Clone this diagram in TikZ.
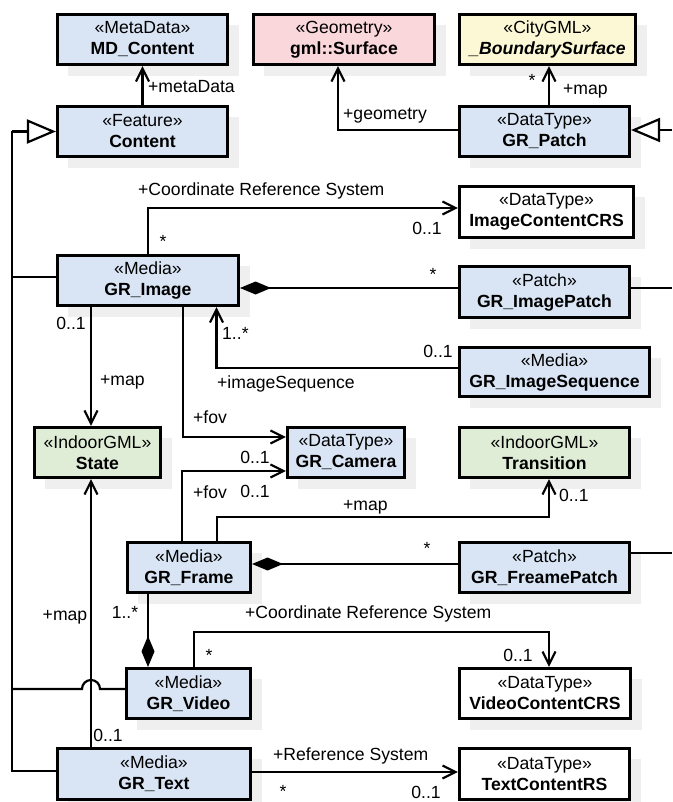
\documentclass[tikz,border=0pt]{standalone}
\usepackage{fontspec}
\setmainfont{Liberation Sans}
\usetikzlibrary{arrows.meta,shadows}

\definecolor{umlblue}{HTML}{D9E5F5}
\definecolor{umlpink}{HTML}{FAD7DB}
\definecolor{umlyellow}{HTML}{FCF8D6}
\definecolor{umlgreen}{HTML}{DFEDD6}
\definecolor{shade}{HTML}{EFEFEF}

\begin{document}
\begin{tikzpicture}[x=1pt,y=-1pt,
  every node/.style={font=\fontsize{17.6}{21}\selectfont},
  cls/.style={draw=black, line width=2.6pt, align=center, inner sep=0pt,
    drop shadow={shadow xshift=11pt, shadow yshift=-11pt, fill=shade, opacity=1}},
  blue/.style={cls, fill=umlblue},
  pink/.style={cls, fill=umlpink},
  yellow/.style={cls, fill=umlyellow},
  green/.style={cls, fill=umlgreen},
  plain/.style={cls, fill=white},
  wire/.style={line width=2.2pt, line join=miter},
  assoc/.style={wire, -{Straight Barb[length=13pt,width=13pt]}},
  gen/.style={wire, -{Triangle[length=29pt,width=24pt,fill=white]}},
  comp/.style={wire, -{Diamond[length=31pt,width=13pt]}},
  lab/.style={inner sep=0pt, text height=12.6pt, text depth=0pt},
  starlab/.style={inner sep=0pt}]

\useasboundingbox (0,0) rectangle (672,802);

% classes
\node[blue, minimum width=170.5pt, minimum height=50.5pt] (md) at (142.5,39.5)
  {«MetaData»\\\textbf{MD\_Content}};
\node[pink, minimum width=181.5pt, minimum height=50.5pt] (surf) at (344,39.5)
  {«Geometry»\\\textbf{gml::Surface}};
\node[yellow, minimum width=176.5pt, minimum height=50.5pt] (bsurf) at (547.5,39.5)
  {«CityGML»\\\textbf{\textit{\_BoundarySurface}}};
\node[blue, minimum width=170.5pt, minimum height=50.5pt] (content) at (142.5,131.5)
  {«Feature»\\\textbf{Content}};
\node[blue, minimum width=170.5pt, minimum height=50.5pt] (patch) at (544.5,131.5)
  {«DataType»\\\textbf{GR\_Patch}};
\node[plain, minimum width=174.5pt, minimum height=51.5pt] (imgcrs) at (546.5,212)
  {«DataType»\\\textbf{ImageContentCRS}};
\node[blue, minimum width=181.5pt, minimum height=50.5pt] (image) at (148,280.5)
  {«Media»\\\textbf{GR\_Image}};
\node[blue, minimum width=170.5pt, minimum height=51.5pt] (imgpatch) at (544.5,292)
  {«Patch»\\\textbf{GR\_ImagePatch}};
\node[blue, minimum width=190.5pt, minimum height=49.5pt] (imgseq) at (554.5,372)
  {«Media»\\\textbf{GR\_ImageSequence}};
\node[green, minimum width=126.5pt, minimum height=50.5pt] (state) at (97.5,452.5)
  {«IndoorGML»\\\textbf{State}};
\node[blue, minimum width=117.5pt, minimum height=50.5pt] (camera) at (346,452.5)
  {«DataType»\\\textbf{GR\_Camera}};
\node[green, minimum width=170.5pt, minimum height=50.5pt] (trans) at (544.5,452.5)
  {«IndoorGML»\\\textbf{Transition}};
\node[blue, minimum width=123.5pt, minimum height=50.5pt] (frame) at (189,567.5)
  {«Media»\\\textbf{GR\_Frame}};
\node[blue, minimum width=170.5pt, minimum height=50.5pt] (fpatch) at (544.5,567.5)
  {«Patch»\\\textbf{GR\_FreamePatch}};
\node[blue, minimum width=124.5pt, minimum height=50.5pt] (video) at (188.5,693.5)
  {«Media»\\\textbf{GR\_Video}};
\node[plain, minimum width=171.5pt, minimum height=50.5pt] (vidcrs) at (545,693.5)
  {«DataType»\\\textbf{VideoContentCRS}};
\node[blue, minimum width=193.5pt, minimum height=51.5pt] (text) at (154,774)
  {«Media»\\\textbf{GR\_Text}};
\node[plain, minimum width=170.5pt, minimum height=51.5pt] (textrs) at (544.5,774)
  {«DataType»\\\textbf{TextContentRS}};

% routing references
\coordinate (gx) at (12,0);
\coordinate (rx) at (672,0);

% generalisation tree on the left
\draw[wire] (gx |- content.west) -- ([yshift=3pt]gx |- text.west) -- ([yshift=3pt]text.west);
\draw[gen] (gx |- content.west) -- (content.west);
\draw[wire] ([yshift=3.5pt]gx |- image.west) -- ([yshift=3.5pt]image.west);
\draw[wire] ([yshift=4.5pt]gx |- video.west) -- ++(70,0)
  arc[start angle=180, end angle=0, radius=9pt] -- ([yshift=4.5pt]video.west);

% generalisation towards GR_Patch and patch stubs on the right
\draw[gen] ([yshift=1.5pt]rx |- patch.east) -- ([yshift=1.5pt]patch.east);
\draw[wire] ([yshift=4pt]imgpatch.east) -- ([yshift=4pt]rx |- imgpatch.east);
\draw[wire] ([yshift=14.5pt]fpatch.east) -- ([yshift=14.5pt]rx |- fpatch.east);

% associations
\draw[assoc] (content.north) -- (md.south);
\draw[assoc] ([yshift=1.5pt]patch.west) -| ([xshift=-6pt]surf.south);
\draw[assoc] ([xshift=4.5pt]patch.north) -- ([xshift=1.5pt]bsurf.south);
\draw[assoc] (image.north) |- ([yshift=4pt]imgcrs.west);
\draw[comp] ([yshift=4pt]imgpatch.west) -- ([yshift=-7.5pt]image.east);
\draw[assoc] ([yshift=4pt]imgseq.west) -| ([xshift=68.5pt]image.south);
\draw[assoc] ([xshift=-57pt]image.south) -- ([xshift=-6.5pt]state.north);
\draw[assoc] ([xshift=35pt]image.south) |- ([yshift=15.5pt]camera.west);
\draw[assoc] ([xshift=-7pt]frame.north) |- ([yshift=-18.5pt]camera.west);
\draw[assoc] ([xshift=28pt]frame.north) -- ++(0,-24) -| ([xshift=4.5pt]trans.south);
\draw[comp] ([yshift=3.5pt]fpatch.west) -- ([yshift=3.5pt]frame.east);
\draw[comp] ([xshift=-41pt]frame.south) -- ([xshift=-40.5pt]video.north);
\draw[assoc] ([xshift=5.5pt]video.north) -- ++(0,-35) -| ([xshift=4pt]vidcrs.north);
\draw[assoc] ([xshift=-63pt]text.north) -- ([xshift=-6.5pt]state.south);
\draw[assoc] ([yshift=2pt]text.east) -- ([yshift=2pt]textrs.west);

% role names and multiplicities
\node[lab, anchor=west] (l1) at (148,86) {+metaData};
\node[lab, anchor=west] (l2) at (343,113) {+geometry};
\node[starlab] (l3) at (532,80) {*};
\node[lab, anchor=west] (l4) at (563,88) {+map};
\node[lab, anchor=west] (l5) at (138,189) {+Coordinate Reference System};
\node[starlab] (l6) at (163,241) {*};
\node[lab] (l7) at (427,228) {0..1};
\node[starlab] (l8) at (433,274) {*};
\node[lab] (l9) at (438,351) {0..1};
\node[lab, anchor=west] (l10) at (217,382) {+imageSequence};
\node[lab, anchor=west] (l11) at (222,333) {1..*};
\node[lab] (l12) at (71,323) {0..1};
\node[lab, anchor=west] (l13) at (100,379) {+map};
\node[lab, anchor=west] (l14) at (193,417) {+fov};
\node[lab] (l15) at (255,457) {0..1};
\node[lab, anchor=west] (l16) at (193,492) {+fov};
\node[lab] (l17) at (255,491) {0..1};
\node[lab, anchor=west] (l18) at (343,504) {+map};
\node[lab, anchor=west] (l19) at (559,495) {0..1};
\node[starlab] (l20) at (427,548) {*};
\node[lab] (l21) at (125,612) {1..*};
\node[lab] (l22) at (65,614) {+map};
\node[lab, anchor=west] (l23) at (245,612) {+Coordinate Reference System};
\node[starlab] (l24) at (209,655) {*};
\node[lab] (l25) at (518,655) {0..1};
\node[lab] (l26) at (108,735) {0..1};
\node[lab, anchor=west] (l27) at (273,754) {+Reference System};
\node[starlab] (l28) at (283,791) {*};
\node[lab] (l29) at (426,792) {0..1};

\end{tikzpicture}
\end{document}
